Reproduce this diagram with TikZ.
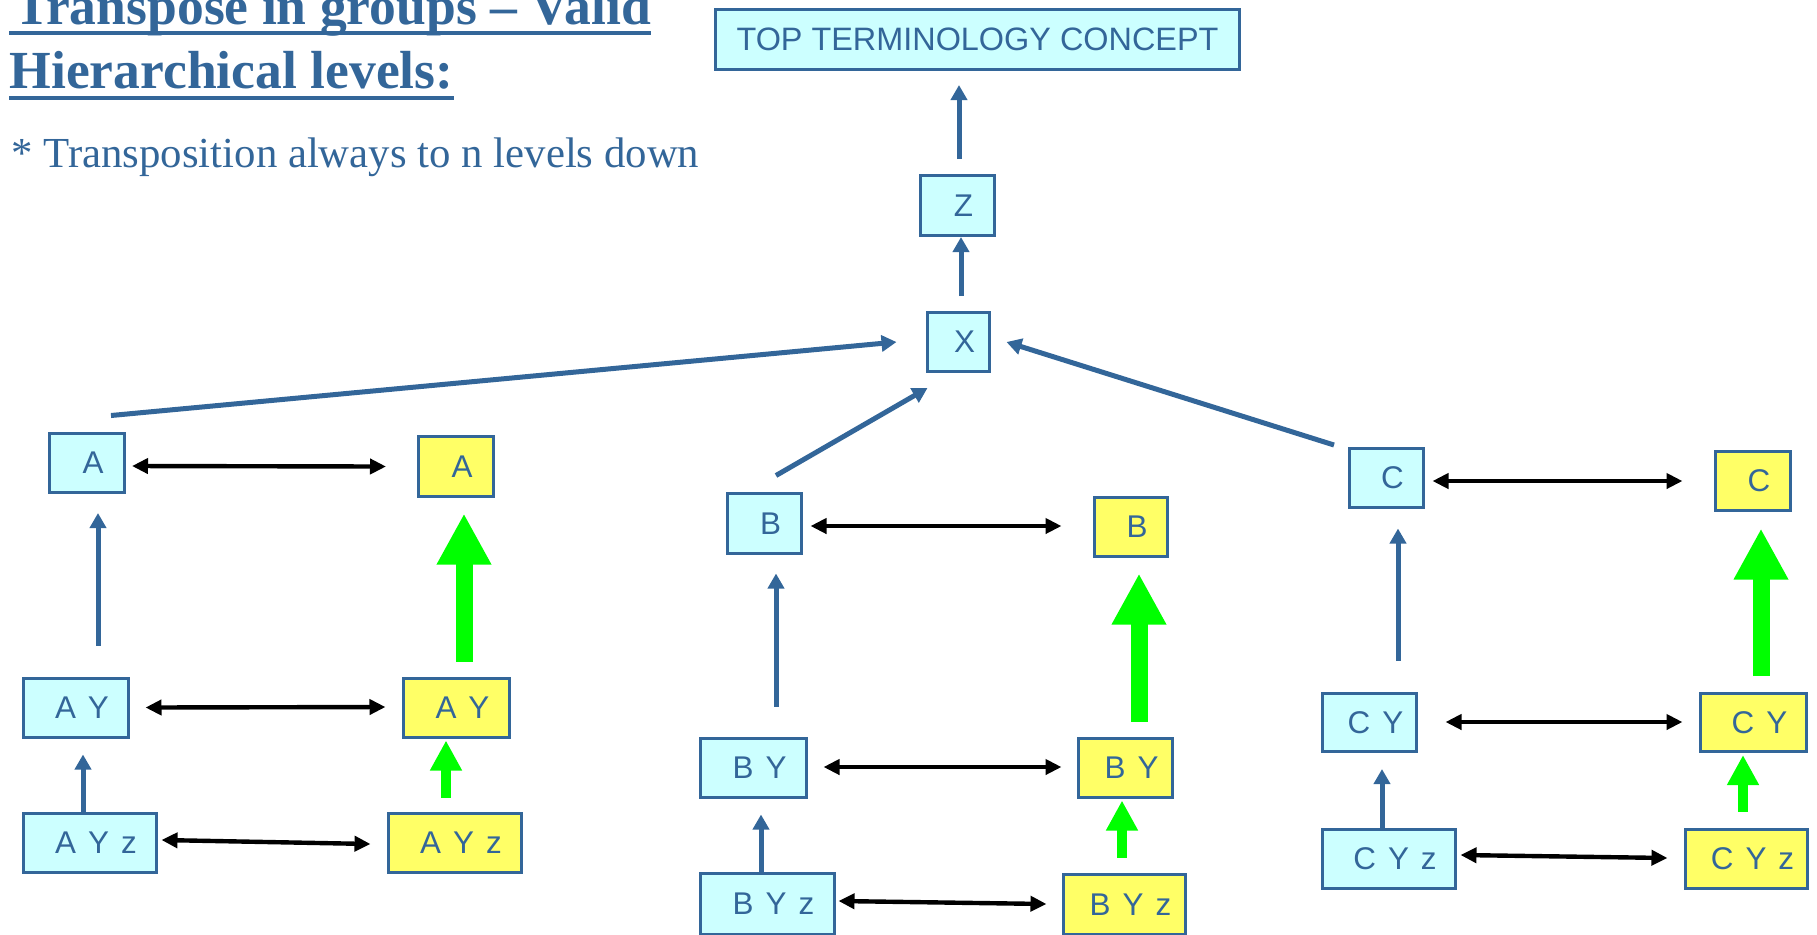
\documentclass[tikz,border=0pt]{standalone}
\usepackage{fontspec}
\setmainfont{Liberation Serif}
\newfontfamily\boxfont{Liberation Sans}
\usetikzlibrary{arrows.meta,calc}
\definecolor{tblue}{RGB}{51,102,153}
\definecolor{tcyan}{RGB}{204,255,255}
\definecolor{tyellow}{RGB}{255,255,102}
\definecolor{tgreen}{RGB}{0,255,0}
\tikzset{
  termbox/.style={draw=tblue, line width=1.5pt, inner sep=0pt, minimum height=29.5pt, text=tblue, font=\boxfont\fontsize{15.7}{18}\selectfont},
  srcbox/.style={termbox, fill=tcyan, execute at begin node={\spaceskip=6pt\relax\hspace{6pt}}},
  grpbox/.style={termbox, fill=tyellow, execute at begin node={\spaceskip=6pt\relax\hspace{6pt}}},
  uparrow/.style={draw=tblue, line width=2.5pt, -{Triangle[width=8pt,length=7.5pt]}},
  pairarrow/.style={draw=black, line width=2.2pt, {Triangle[width=7.5pt,length=8pt]}-{Triangle[width=7.5pt,length=8pt]}},
  bigtransp/.style={draw=tgreen, line width=8.5pt, -{Triangle[width=25.5pt,length=25.5pt]}},
  smalltransp/.style={draw=tgreen, line width=5pt, -{Triangle[width=15pt,length=15pt]}}
}
\begin{document}
\begin{tikzpicture}[x=0.5pt, y=-0.5pt]
  \useasboundingbox (0,0) rectangle (1817,934);

  %% Title
  \node[anchor=base west, inner sep=0pt, text=tblue, font=\bfseries\fontsize{26.8}{30}\selectfont] (title1) at (14,24) {Transpose in groups -- Valid};
  \node[anchor=base west, inner sep=0pt, text=tblue, font=\bfseries\fontsize{26.8}{30}\selectfont] (title2) at (9,88) {Hierarchical levels:};
  \draw[tblue, line width=2pt] ($(title1.base west)+(-5,9)$) -- ($(title1.base east)+(0,9)$);
  \draw[tblue, line width=2pt] ($(title2.base west)+(0,10)$) -- ($(title2.base east)+(0,10)$);
  \node[anchor=base west, inner sep=0pt, text=tblue, font=\fontsize{21.4}{25}\selectfont] (note) at (11,167) {* Transposition always to n levels down};

  %% Top of the hierarchy
  \node[termbox, fill=tcyan, minimum width=262pt, minimum height=30pt, font=\boxfont\fontsize{16.2}{18}\selectfont] (top) at (977.5,39.5) {TOP TERMINOLOGY CONCEPT};
  \node[srcbox, minimum width=37pt, minimum height=30pt] (z) at (957.5,205.5) {Z};
  \node[srcbox, minimum width=31pt] (x) at (958.5,342) {X};
  \draw[uparrow] ($(z.north)+(1.5,-15)$) -- ($(z.north |- top.south)+(1.5,14)$);
  \draw[uparrow] ($(x.north)+(2.5,-15)$) -- ($(x.north |- z.south)+(2.5,0)$);

  %% Group A
  \node[srcbox, minimum width=37.5pt] (a_src)   at (87,463) {A};
  \node[srcbox, minimum width=52.5pt] (ay_src)  at (76,707.5) {A Y};
  \node[srcbox, minimum width=66.5pt] (ayz_src) at (90,843) {A Y z};
  \node[grpbox, minimum width=37.5pt, minimum height=30pt] (a_grp) at (456,466.5) {A};
  \node[grpbox, minimum width=53pt]   (ay_grp)  at (456.5,708) {A Y};
  \node[grpbox, minimum width=66.5pt] (ayz_grp) at (455,843) {A Y z};
  \draw[uparrow] ($(ay_src.north)+(22,-31)$) -- ($(ay_src.north |- a_src.south)+(22,19)$);
  \draw[uparrow] ($(ayz_src.north)+(-7,0)$) -- ($(ayz_src.north |- ay_src.south)+(-7,16)$);
  \draw[bigtransp] ($(ay_grp.north)+(7.5,-15.5)$) -- ($(ay_grp.north |- a_grp.south)+(7.5,15.5)$);
  \draw[smalltransp] ($(ayz_grp.north)+(-9,-14.5)$) -- ($(ayz_grp.north |- ay_grp.south)+(-9,1.5)$);
  \draw[pairarrow] ($(a_src.east)+(6,3)$) -- ($(a_grp.west)+(-31,0)$);
  \draw[pairarrow] ($(ay_src.east)+(15.5,0)$) -- ($(ay_grp.west)+(-16.5,-1)$);
  \draw[pairarrow] ($(ayz_src.east)+(3.5,-3)$) -- ($(ayz_grp.west)+(-16.5,1)$);
  \draw[uparrow] ($(a_src.north)+(24,-16.5)$) -- ($(x.west)+(-29.5,0)$);

  %% Group B
  \node[srcbox, minimum width=37pt, minimum height=30pt] (b_src) at (764.5,523.5) {B};
  \node[srcbox, minimum width=53pt] (by_src)  at (753.5,768) {B Y};
  \node[srcbox, minimum width=67pt, minimum height=30.5pt] (byz_src) at (767.5,904) {B Y z};
  \node[grpbox, minimum width=36.5pt] (b_grp)   at (1131,527) {B};
  \node[grpbox, minimum width=47pt]   (by_grp)  at (1125.5,768) {B Y};
  \node[grpbox, minimum width=61pt, minimum height=30pt] (byz_grp) at (1124.5,904.5) {B Y z};
  \draw[uparrow] ($(by_src.north)+(22.5,-30.5)$) -- ($(by_src.north |- b_src.south)+(22.5,18.5)$);
  \draw[uparrow] ($(byz_src.north)+(-6.5,0)$) -- ($(byz_src.north |- by_src.south)+(-6.5,15.5)$);
  \draw[bigtransp] ($(by_grp.north)+(13.5,-15.5)$) -- ($(by_grp.north |- b_grp.south)+(13.5,15.5)$);
  \draw[smalltransp] ($(byz_grp.north)+(-2.5,-15.5)$) -- ($(byz_grp.north |- by_grp.south)+(-2.5,1.5)$);
  \draw[pairarrow] ($(b_src.east)+(7.5,2.5)$) -- ($(b_grp.west)+(-31.5,-1)$);
  \draw[pairarrow] ($(by_src.east)+(15.5,-1)$) -- ($(by_grp.west)+(-15.5,-1)$);
  \draw[pairarrow] ($(byz_src.east)+(2.5,-3)$) -- ($(byz_grp.west)+(-15.5,-0.5)$);
  \draw[uparrow] ($(b_src.north)+(11.5,-16.5)$) -- ($(x.south)+(-31,15)$);

  %% Group C
  \node[srcbox, minimum width=37pt]   (c_src)   at (1386.5,478) {C};
  \node[srcbox, minimum width=47pt, minimum height=29pt] (cy_src) at (1369.5,722.5) {C Y};
  \node[srcbox, minimum width=66.5pt] (cyz_src) at (1389,859) {C Y z};
  \node[grpbox, minimum width=37.5pt] (c_grp)   at (1753,481) {C};
  \node[grpbox, minimum width=53pt, minimum height=29pt] (cy_grp) at (1753.5,722.5) {C Y};
  \node[grpbox, minimum width=61pt]   (cyz_grp) at (1746.5,859) {C Y z};
  \draw[uparrow] ($(cy_src.north)+(28.5,-31)$) -- ($(cy_src.north |- c_src.south)+(28.5,19.5)$);
  \draw[uparrow] ($(cyz_src.north)+(-7,0)$) -- ($(cyz_src.north |- cy_src.south)+(-7,16)$);
  \draw[bigtransp] ($(cy_grp.north)+(7.5,-16)$) -- ($(cy_grp.north |- c_grp.south)+(7.5,16.5)$);
  \draw[smalltransp] ($(cyz_grp.north)+(-3.5,-16.5)$) -- ($(cyz_grp.north |- cy_grp.south)+(-3.5,2)$);
  \draw[pairarrow] ($(c_src.east)+(7.5,3)$) -- ($(c_grp.west)+(-31.5,0)$);
  \draw[pairarrow] ($(cy_src.east)+(27.5,-0.5)$) -- ($(cy_grp.west)+(-16.5,-0.5)$);
  \draw[pairarrow] ($(cyz_src.east)+(3.5,-4)$) -- ($(cyz_grp.west)+(-16.5,-1)$);
  \draw[uparrow] ($(c_src.north west)+(-14,-2)$) -- ($(x.east)+(15.5,0)$);
\end{tikzpicture}
\end{document}
